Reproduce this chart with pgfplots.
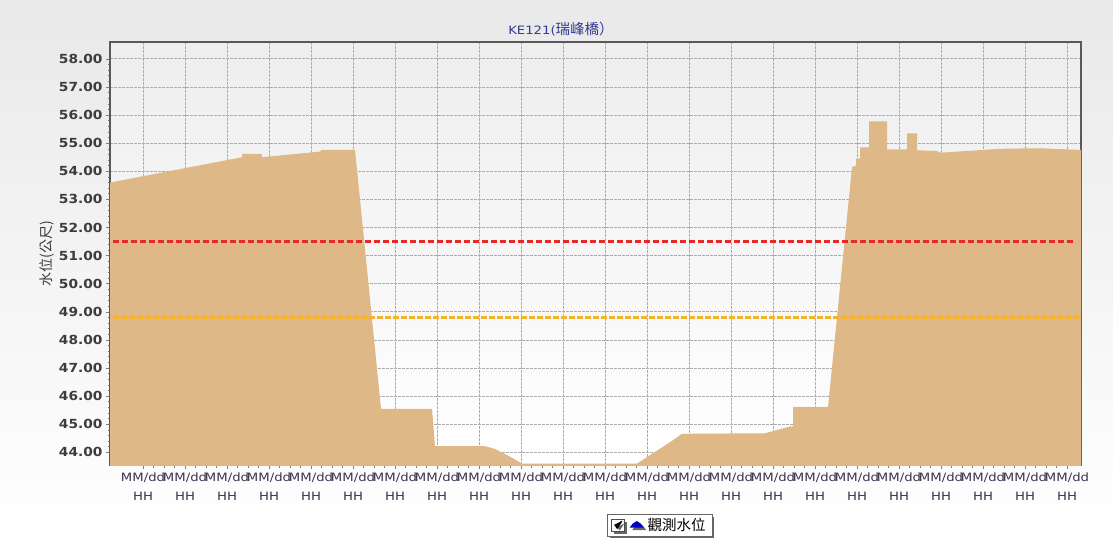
\documentclass[border=0pt]{standalone}
\usepackage{pgfplots}
\pgfplotsset{compat=1.18}
\usepackage{fontspec}
\setmainfont{DejaVu Sans}
\newfontfamily\ticky[FakeStretch=1.1]{DejaVu Sans}
\newfontfamily\tickx[FakeStretch=1.15]{DejaVu Sans}
\newfontfamily\cjk{Noto Sans CJK TC}
\usetikzlibrary{shadows}

\definecolor{fillc}{RGB}{222,184,135}
\definecolor{redl}{RGB}{232,40,36}
\definecolor{orgl}{RGB}{246,178,40}
\definecolor{titlec}{RGB}{50,58,150}
\definecolor{txt}{RGB}{60,60,60}
\definecolor{xtxt}{RGB}{58,52,80}

\begin{document}
\begin{tikzpicture}[x=1pt,y=1pt]
% page background
\shade[top color={rgb,255:red,233;green,233;blue,233}, bottom color=white] (0,0) rectangle (1113,539);

\begin{axis}[
    at={(110pt,74pt)}, anchor=south west,
    scale only axis,
    width=971pt, height=423pt,
    xmin=-0.786, xmax=22.333,
    ymin=43.55, ymax=58.6,
    xtick={0,...,22},
    xticklabel={MM/dd\\HH},
    xticklabel style={align=center, font=\tickx\fontsize{11.5}{19}\selectfont, text=xtxt},
    ytick={44,...,58},
    yticklabel style={font=\ticky\bfseries\fontsize{12.5}{14}\selectfont, text=txt},
    /pgf/number format/.cd, fixed, fixed zerofill, precision=2, assume math mode=true,
    /pgfplots/.cd,
    minor x tick num=3,
    minor y tick num=4,
    xtick pos=left, ytick pos=left,
    tick align=outside,
    major tick length=4pt, minor tick length=2.5pt,
    tick style={draw=gray, line width=0.6pt},
    grid=major,
    major grid style={draw=gray!65, dash pattern=on 3pt off 1pt, line width=0.8pt},
    axis line style={draw=black!65, line width=1.4pt},
    axis background/.style={shade, top color={rgb,255:red,238;green,238;blue,238}, bottom color=white},
    ylabel={水位(公尺)},
    ylabel style={at={(axis description cs:-0.065,0.5)}, anchor=center, font=\cjk\fontsize{14}{15}\selectfont, text=txt},
    legend style={at={(axis description cs:0.566,-0.142)}, anchor=center,
        draw=black!60, fill=white, inner xsep=4pt, inner ysep=2pt,
        drop shadow={shadow xshift=2.5pt, shadow yshift=-2.5pt, fill=black!60, opacity=1},
        font=\cjk\fontsize{14.5}{16}\selectfont},
    legend image code/.code={
        \draw[black!70, fill=white, line width=0.6pt] (0pt,-6pt) rectangle (13pt,6pt);
        \draw[black, line width=1.3pt] (3pt,0.5pt) -- (5.5pt,-3pt) -- (10pt,4pt);
        \fill[blue!75!black] (18pt,-2.5pt) -- (32pt,-2.5pt) -- (29pt,1.5pt) -- (25pt,4pt) -- (21pt,1.5pt) -- cycle;
        \path (34pt,0pt);
    },
]
\addplot[draw=none, fill=fillc] coordinates {
(-0.786,43) (-0.786,53.60) (2.357,54.50) (2.357,54.62) (2.833,54.62) (2.833,54.50)
(4.214,54.70) (4.262,54.76) (5.048,54.76) (5.667,45.55) (6.881,45.55) (6.952,44.22)
(8.143,44.22) (8.381,44.12) (8.738,43.85) (9.024,43.60) (11.762,43.60) (12.071,43.90)
(12.548,44.36) (12.833,44.66) (14.810,44.68) (15.405,44.92) (15.476,44.92) (15.476,45.62)
(16.310,45.62) (16.881,54.15) (16.976,54.20) (16.976,54.45) (17.071,54.45) (17.071,54.85)
(17.286,54.85) (17.286,55.78) (17.714,55.78) (17.714,54.78) (18.190,54.78) (18.190,55.35)
(18.429,55.35) (18.429,54.75) (18.905,54.72) (18.976,54.66) (20.405,54.80) (21.357,54.82)
(22.333,54.76) (22.333,43)
} -- cycle;
\addlegendentry{觀測水位}
\addplot[redl, line width=2.5pt, dash pattern=on 6pt off 3pt, forget plot] coordinates {(-0.71,51.5) (22.2,51.5)};
\addplot[orgl, line width=2.6pt, dash pattern=on 6pt off 2pt, forget plot] coordinates {(-0.71,48.8) (22.3,48.8)};
\end{axis}

\node[text=titlec, font=\tickx\fontsize{11.5}{14}\selectfont] at (561,510) {KE121({\cjk\fontsize{14.5}{16}\selectfont 瑞峰橋）}};
\end{tikzpicture}
\end{document}
